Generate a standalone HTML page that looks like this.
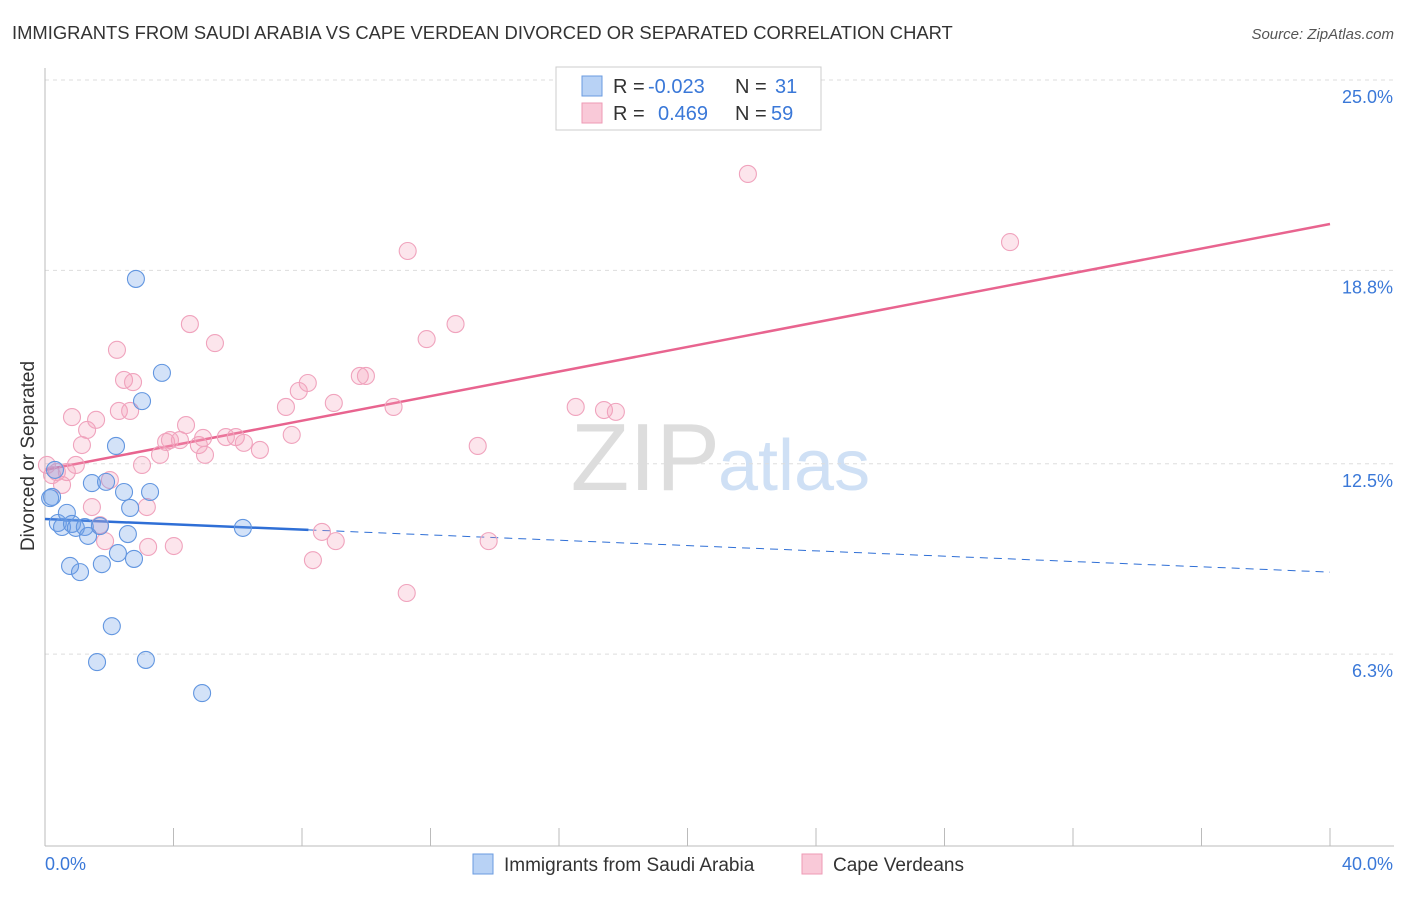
<!DOCTYPE html>
<html><head><meta charset="utf-8"><style>
body{margin:0;background:#fff;font-family:"Liberation Sans",sans-serif;}
svg text{font-family:"Liberation Sans",sans-serif;}
</style></head><body>
<svg id="chart" width="1406" height="892">
<text x="12" y="39" font-size="18.4" fill="#333">IMMIGRANTS FROM SAUDI ARABIA VS CAPE VERDEAN DIVORCED OR SEPARATED CORRELATION CHART</text>
<text x="1394" y="39" font-size="15" fill="#555" text-anchor="end" font-style="italic">Source: ZipAtlas.com</text>
<text x="720" y="490" font-size="96" fill="#ddd" text-anchor="end" font-family="Liberation Serif">ZIP</text>
<text x="718" y="490" font-size="72" fill="#cfe0f5">atlas</text>
<g id="grid"></g><g id="axes"></g><g id="lines"></g><g id="pts"></g>
<text transform="translate(34,456) rotate(-90)" font-size="19" fill="#333" text-anchor="middle">Divorced or Separated</text>
<g>
<rect x="556" y="67" width="265" height="63" fill="#fff" stroke="#ccc"/>
<rect x="582" y="76" width="20" height="20" fill="#b8d2f5" stroke="#6a9be0"/>
<rect x="582" y="103" width="20" height="20" fill="#f9c9d8" stroke="#ee9ab5"/>
<text x="613" y="93" font-size="20" fill="#333">R =</text><text x="648" y="93" font-size="20" fill="#3a78d8">-0.023</text>
<text x="735" y="93" font-size="20" fill="#333">N =</text><text x="775" y="93" font-size="20" fill="#3a78d8">31</text>
<text x="613" y="120" font-size="20" fill="#333">R =</text><text x="658" y="120" font-size="20" fill="#3a78d8">0.469</text>
<text x="735" y="120" font-size="20" fill="#333">N =</text><text x="771" y="120" font-size="20" fill="#3a78d8">59</text>
</g>
<g>
<rect x="473" y="854" width="20" height="20" fill="#b8d2f5" stroke="#6a9be0"/>
<text x="504" y="871" font-size="19" fill="#333">Immigrants from Saudi Arabia</text>
<rect x="802" y="854" width="20" height="20" fill="#f9c9d8" stroke="#ee9ab5"/>
<text x="833" y="871" font-size="19" fill="#333">Cape Verdeans</text>
</g>
</svg>
<script>
const blueX=[0.22,0.31,0.40,0.53,0.68,0.84,0.96,0.78,1.09,1.24,1.34,1.46,1.62,1.71,1.77,1.90,2.08,2.21,2.27,2.46,2.58,2.65,2.77,2.83,3.02,3.14,3.27,3.64,4.89,6.16,0.16];
const blueY=[11.42,12.30,10.57,10.44,10.90,10.54,10.41,9.17,8.97,10.44,10.15,11.87,6.04,10.47,9.23,11.91,7.21,13.08,9.59,11.58,10.21,11.06,9.40,18.52,14.54,6.11,11.58,15.46,5.03,10.41,11.38];
const pinkX=[0.06,0.22,0.37,0.53,0.68,0.84,0.96,1.15,1.31,1.46,1.59,1.71,1.87,2.02,2.24,2.30,2.46,2.65,2.74,3.02,3.17,3.21,3.58,3.77,3.89,4.01,4.20,4.39,4.51,4.79,4.92,4.98,5.29,5.63,5.94,6.19,6.69,7.50,7.68,7.90,8.18,8.34,8.62,8.99,9.05,9.80,9.99,10.85,11.26,11.29,11.88,12.78,13.47,13.81,16.52,17.40,17.77,21.88,30.04];
const pinkY=[12.46,12.13,12.23,11.81,12.23,14.02,12.46,13.11,13.60,11.09,13.93,10.50,9.98,11.97,16.21,14.22,15.23,14.22,15.16,12.46,11.09,9.79,12.79,13.21,13.27,9.82,13.27,13.76,17.05,13.11,13.34,12.79,16.43,13.37,13.37,13.18,12.95,14.35,13.44,14.87,15.13,9.36,10.28,14.48,9.98,15.36,15.36,14.35,8.29,19.43,16.56,17.05,13.08,9.98,14.35,14.25,14.19,21.94,19.72];
const yTicks=[25.0,18.8,12.5,6.3];
const yTickLabels=["25.0%","18.8%","12.5%","6.3%"];
const xTicks=[0,4,8,12,16,20,24,28,32,36,40];
const pinkTrend=[12.30,20.31];
const blueTrend=[10.70,8.97];
const blueSolidEnd=8.2;
const NS="http://www.w3.org/2000/svg";
const X=v=>45+v/40*1285, Y=v=>80+(25-v)*30.7;
function mk(tag,parent,attrs){const e=document.createElementNS(NS,tag);for(const k in attrs)e.setAttribute(k,attrs[k]);document.getElementById(parent).appendChild(e);return e;}
yTicks.forEach((t,i)=>{
 const l=mk('line','grid',{x1:45,x2:1394,y1:Y(t),y2:Y(t),stroke:'#ddd','stroke-dasharray':'4,4'});
 
 
 const tx=mk('text','grid',{x:1393,y:Y(t)+23,'font-size':18,fill:'#3a78d8','text-anchor':'end'});tx.textContent=yTickLabels[i];
 
 
});
mk('line','axes',{x1:45,x2:45,y1:68,y2:846,stroke:'#bbb'});
mk('line','axes',{x1:45,x2:1394,y1:846,y2:846,stroke:'#bbb'});
xTicks.forEach(t=>{const l=mk('line','axes',{x1:X(t),x2:X(t),y1:828,y2:846,stroke:'#bbb'});
 
 });
let a=mk('text','axes',{x:45,y:870,'font-size':18,fill:'#3a78d8'});a.textContent=xTicks[0].toFixed(1)+'%';


a=mk('text','axes',{x:1393,y:870,'font-size':18,fill:'#3a78d8','text-anchor':'end'});a.textContent=xTicks[10].toFixed(1)+'%';


function pts(xs,ys,fill,stroke,name){xs.forEach((x,i)=>{const c=mk('circle','pts',{cx:X(x),cy:Y(ys[i]),r:8.5,fill:fill,stroke:stroke,'stroke-width':1.1});
 
 });}
pts(pinkX,pinkY,'rgba(244,160,188,0.28)','#f0a3bd','cape-verdean-point');
pts(blueX,blueY,'rgba(110,160,232,0.3)','#6296e0','saudi-arabia-point');
let p=mk('line','lines',{x1:X(0),y1:Y(pinkTrend[0]),x2:X(40),y2:Y(pinkTrend[1]),stroke:'#e8648f','stroke-width':2.5});


const by=x=>blueTrend[0]+(blueTrend[1]-blueTrend[0])*x/40;
let b=mk('line','lines',{x1:X(0),y1:Y(by(0)),x2:X(blueSolidEnd),y2:Y(by(blueSolidEnd)),stroke:'#2f6fd6','stroke-width':2.5});


b=mk('line','lines',{x1:X(blueSolidEnd),y1:Y(by(blueSolidEnd)),x2:X(40),y2:Y(by(40)),stroke:'#2f6fd6','stroke-width':1,'stroke-dasharray':'8,6'});


</script>
</body></html>
